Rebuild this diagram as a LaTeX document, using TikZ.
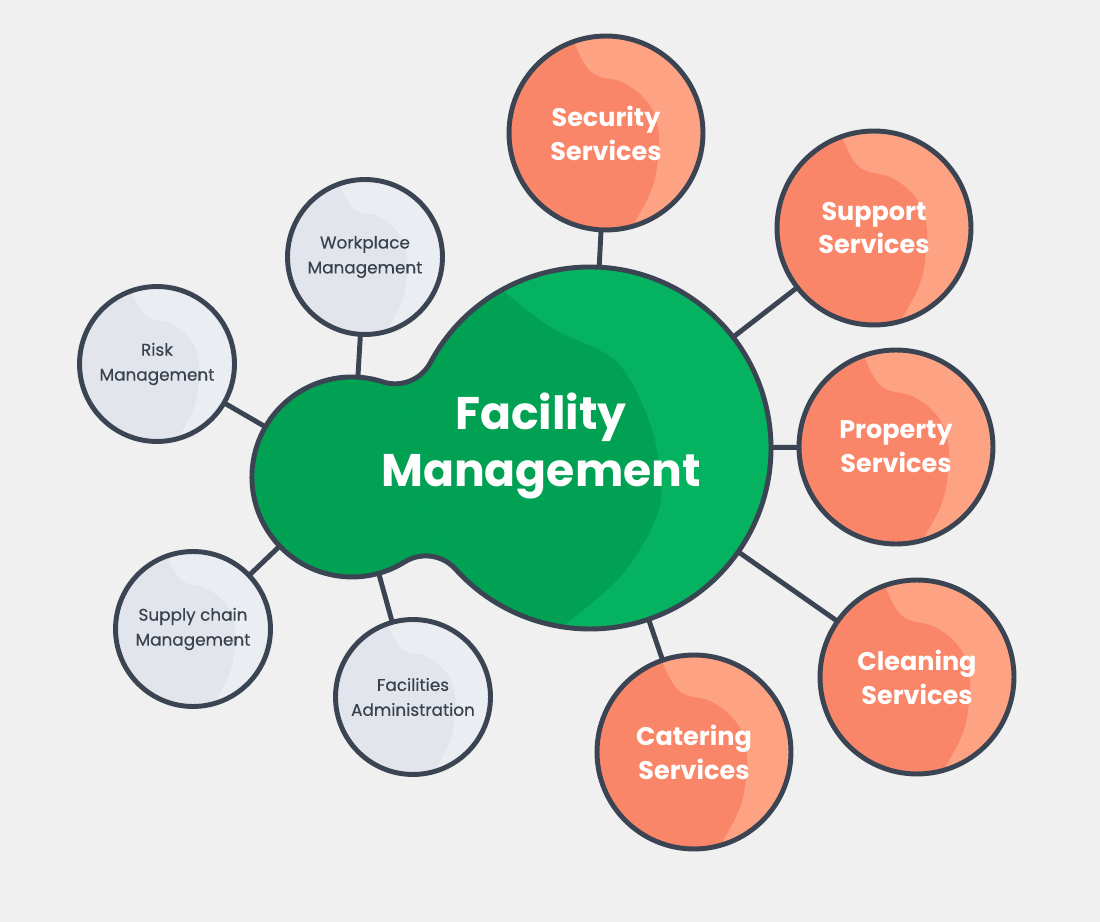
\documentclass[tikz,border=0pt]{standalone}
\usepackage{fontspec}
\setmainfont{Poppins}
\newfontfamily\areafont{Poppins}[FakeBold=0.4]
\definecolor{bg}{HTML}{F0F0F0}
\definecolor{rim}{HTML}{3A4452}
\definecolor{coral}{HTML}{F98668}
\definecolor{coralhi}{HTML}{FDA283}
\definecolor{greylo}{HTML}{E2E6EC}
\definecolor{greyhi}{HTML}{EAEDF1}
\definecolor{greenlo}{HTML}{00A153}
\definecolor{greenhi}{HTML}{05B25F}
\definecolor{inkgrey}{HTML}{39414C}

% circle body with a lighter crescent on its upper right
\def\crescent#1#2#3#4#5{\begin{scope}[shift={(#4,#5)}, scale=#3]
  \clip (0,0) circle (97);
  \fill[#2] (0,0) circle (97);
  \fill[#1] plot[smooth, tension=0.7] coordinates {(-35,-100) (-16,-62) (18,-50) (42,-30) (52,-5) (52,25) (45,58) (25,95)}
    -- (25,120) -- (-120,120) -- (-120,-120) -- (-35,-120) -- cycle;
\end{scope}}

\begin{document}
\begin{tikzpicture}[x=0.02cm,y=-0.02cm,
  ring/.style={circle, draw=rim, line width=2.8pt, inner sep=0pt, outer sep=0pt, align=center},
  service/.style={ring, minimum size=3.88cm, text=white, font=\bfseries\fontsize{14.5}{19.3}\selectfont},
  area/.style={ring, minimum size=3.1cm, text=inkgrey, font=\areafont\fontsize{9.6}{14.2}\selectfont},
  hub/.style={circle, inner sep=0pt, outer sep=0pt, minimum size=#1},
  link/.style={draw=rim, line width=2.8pt}]

\useasboundingbox (0,0) rectangle (1100,922);
\fill[bg] (0,0) rectangle (1100,922);

% the two lobes of the centre
\node[hub=7.24cm] (big) at (590,448) {};
\node[hub=4cm] (lobe) at (352,477) {};

\def\blob{(382.78,381.86) arc[start angle=107.93, end angle=28.13, radius=40]
  arc[start angle=208.13, end angle=497.99, radius=181]
  arc[start angle=317.99, end angle=238.17, radius=40]
  arc[start angle=58.17, end angle=287.93, radius=100] -- cycle}

\fill[greenlo] \blob;
\begin{scope}
  \clip (big.center) circle (181);
  \fill[greenhi] (big.center) circle (181);
  \fill[greenlo] plot[smooth] coordinates {(490,280) (550,327) (617,362) (652,430) (660,505) (622,575) (555,632)}
    -- (380,720) -- (380,200) -- cycle;
\end{scope}
\draw[link] \blob;

% services
\foreach \name/\x/\y/\txt in {sec/606/133/{Security\\Services}, sup/874/228/{Support\\Services},
    prop/896/447/{Property\\Services}, clean/917/677/{Cleaning\\Services}, cat/694/752/{Catering\\Services}}{
  \crescent{coral}{coralhi}{1}{\x}{\y}
  \node[service] (\name) at (\x,\y) {\txt};
}

% management areas
\foreach \name/\x/\y/\txt in {work/365/257/{Workplace\\Management}, risk/157/364/{Risk\\Management},
    supply/193/629/{Supply chain\\Management}, admin/413/697/{Facilities\\Administration}}{
  \crescent{greylo}{greyhi}{0.8}{\x}{\y}
  \node[area] (\name) at (\x,\y) {\txt};
}

% links to the centre
\foreach \a/\b in {sec/big, sup/big, prop/big, clean/big, cat/big, work/lobe, risk/lobe, supply/lobe, admin/lobe}
  \draw[link] (\a) -- (\b);

\node[text=white, font=\bfseries\fontsize{26}{32.9}\selectfont, align=center] (title) at (541,446) {Facility\\Management};
\end{tikzpicture}
\end{document}
